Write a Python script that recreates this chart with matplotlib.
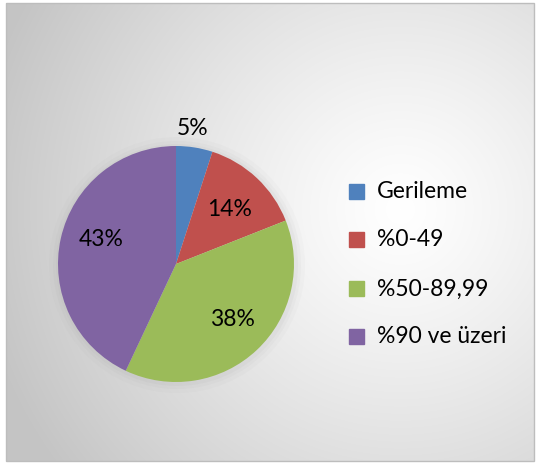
import numpy as np
import matplotlib.pyplot as plt
from matplotlib.patches import Rectangle, Circle

categories = ["Gerileme", "%0-49", "%50-89,99", "%90 ve üzeri"]
values = [5, 14, 38, 43]
labels = ["5%", "14%", "38%", "43%"]
colors = ["#4F81BD", "#C0504D", "#9BBB59", "#8064A2"]

W, H = 537, 464
fig = plt.figure(figsize=(W / 100, H / 100), dpi=100)
plt.rcParams['font.family'] = ['Lato', 'DejaVu Sans']

# background gradient
bg = fig.add_axes([0, 0, 1, 1])
bg.set_xlim(0, W)
bg.set_ylim(H, 0)
bg.axis('off')
yy, xx = np.mgrid[0:H, 0:W]
cx, cy = 400, 210
d = np.sqrt((xx - cx) ** 2 + (yy - cy) ** 2) / 430
d = np.clip(d, 0, 1)
v = 1.0 - 0.23 * d ** 1.2
img = np.dstack([v, v, v])
bx0, by0, bx1, by1 = 6, 4, 534, 462
bg.imshow(img[by0:by1, bx0:bx1], extent=(bx0, bx1, by1, by0), zorder=0)
bg.add_patch(Rectangle((bx0, by0), bx1 - bx0, by1 - by0, fill=False,
                       edgecolor="#bdbdbd", lw=1, zorder=1))
# soft shadow around pie
for r, a in [(128, 0.03), (124, 0.04), (121, 0.05)]:
    bg.add_patch(Circle((177, 266), r, color="#808080", alpha=a, lw=0, zorder=1))

# pie
cxp, cyp, R = 176, 265, 118
ax = fig.add_axes([(cxp - R) / W, 1 - (cyp + R) / H, 2 * R / W, 2 * R / H])
wedges, _ = ax.pie(values, colors=colors, startangle=90, counterclock=False,
                   wedgeprops=dict(edgecolor='none'))
ax.set_aspect('auto')
ax.set_xlim(-1, 1)
ax.set_ylim(-1, 1)

label_pos = [(193, 129), (230, 209), (232, 320), (101, 240)]
for (px, py), t in zip(label_pos, labels):
    fig.text(px / W, 1 - py / H, t, ha='center', va='center', fontsize=16.5, color='black')

# legend
rows = [192, 240, 289, 337]
for cat, col, y in zip(categories, colors, rows):
    bg.add_patch(Rectangle((349, y - 7.5), 15, 15, color=col, zorder=3))
    bg.text(377, y, cat, ha='left', va='center', fontsize=16.5, color='black', zorder=3)

fig.savefig("out.png", dpi=100)
